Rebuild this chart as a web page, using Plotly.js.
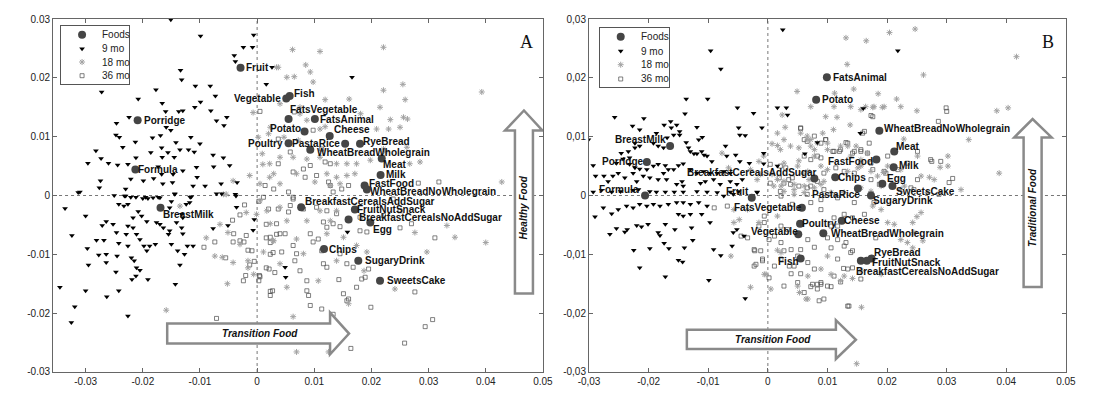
<!DOCTYPE html>
<html>
<head>
<meta charset="utf-8">
<script src="https://cdn.plot.ly/plotly-3.0.1.min.js"></script>
<style>
  html, body { margin: 0; padding: 0; background: #fff; }
  #chart { width: 1105px; height: 408px; }
</style>
</head>
<body>
<div id="chart"></div>
<script>
// ---- data: children points as (x, y) pairs, in thousandths ----
var mo9A = [[-15.1,29.9],[-9.9,27.1],[-0.6,27.3],[-2.4,25.2],[-0.8,25.2],[-4.0,23.8],[-3.8,22.8],[-13.4,21.3],[-13.2,19.7],[-27.2,17.6],
  [-20.8,16.4],[-17.7,18.0],[-10.8,18.6],[-8.2,18.6],[-7.3,16.9],[-16.6,15.7],[-9.9,15.9],[-10.9,15.0],[-8.1,14.4],[-16.0,14.3],
  [-13.7,14.3],[-13.0,14.4],[-7.1,12.7],[-5.3,13.3],[-5.8,11.9],[-22.4,13.3],[-24.6,12.3],[-24.7,10.3],[-24.1,9.9],[-15.9,11.6],
  [-15.1,11.1],[-16.9,10.2],[-18.3,9.8],[-21.3,9.1],[-14.2,9.0],[-11.6,9.9],[-10.0,8.8],[-23.5,8.2],[-28.2,7.6],[-29.6,5.5],
  [-27.3,6.3],[-26.0,5.5],[-24.4,5.2],[-22.6,5.3],[-21.2,6.4],[-13.5,7.8],[-12.0,7.8],[-11.0,7.4],[-16.7,8.1],[-15.6,7.3],
  [-14.5,6.5],[-16.6,6.5],[-18.6,7.3],[-17.3,4.9],[-16.7,3.6],[-14.7,3.6],[-13.0,4.2],[-10.6,4.8],[-7.7,6.9],[-5.9,6.4],
  [-4.8,5.1],[-7.6,4.9],[-10.5,3.1],[-11.2,1.6],[-9.1,1.6],[-6.3,2.0],[-3.5,2.2],[-27.4,2.5],[-27.6,1.3],[-22.1,2.8],
  [-19.9,2.5],[-18.1,2.9],[-16.5,2.0],[-14.8,2.2],[-14.4,0.3],[-31.0,0.6],[-23.0,1.1],[-19.5,-0.3],[-17.3,-0.3],[-11.5,-0.2],
  [-7.1,0.3],[-3.8,0.2],[-25.0,0.0],[-23.0,-0.1],
  [-31.3,0.5],[-33.6,-2.2],[-30.0,-3.5],[-32.4,-6.8],[-28.1,-7.6],[-26.8,-7.6],[-29.7,-9.0],[-27.7,-10.1],[-26.4,-10.0],[-29.5,-11.8],
  [-26.4,-11.4],[-27.1,-5.1],[-26.4,-4.4],[-25.2,-4.9],[-24.6,-6.3],[-24.2,-8.1],[-24.5,-10.3],[-24.7,-13.0],[-24.2,-16.2],[-30.0,-16.2],
  [-34.5,-15.6],[-31.9,-18.9],[-32.5,-21.6],[-26.3,-17.2],[-22.6,-20.5],[-24.2,-1.5],[-23.3,-1.8],[-22.6,-1.5],[-23.2,-0.1],[-22.1,-0.3],
  [-21.2,-0.3],[-20.0,-0.5],[-19.1,-0.5],[-18.2,-0.4],[-17.0,-0.4],[-15.0,-1.0],[-14.4,0.2],[-11.7,-0.3],[-20.8,-2.7],[-20.2,-3.5],
  [-19.3,-4.4],[-21.7,-3.8],[-22.6,-5.2],[-21.7,-5.5],[-22.9,-6.6],[-21.1,-6.6],[-20.5,-7.5],[-22.6,-8.6],[-22.0,-10.6],[-21.5,-11.1],
  [-21.1,-12.3],[-20.5,-12.7],[-21.9,-14.3],[-21.2,-13.7],[-19.1,-14.3],[-19.8,-8.6],[-18.8,-8.6],[-19.3,-9.4],[-17.8,-8.3],[-17.0,-4.9],
  [-16.4,-5.5],[-17.6,-4.6],[-15.5,-6.6],[-15.3,-6.0],[-15.0,-8.3],[-14.1,-4.6],[-13.2,-5.5],[-13.0,-6.5],[-13.9,-9.4],[-12.7,-10.0],
  [-12.2,-8.6],[-11.2,-8.6],[-13.5,-11.8],[-14.3,-15.1],[-13.0,-3.8],[-12.4,-1.5],[-11.8,-1.2],[-15.3,-2.1],[-13.2,-3.2],[-7.7,-5.6],
  [-5.1,-5.1],[-6.2,0.3],[-3.6,-2.0],[-0.7,-5.9],[-3.7,-0.1],
  [2.6,21.8],[1.6,18.9],[16.6,20.1],[15.8,-6.2],[5.0,-13.9],[-0.5,-4.1],[4.9,-12.2]];

var mo18A = [[6.2,24.8],[11.0,24.5],[22.1,25.2],[3.7,21.8],[8.5,22.2],[5.2,20.1],[6.5,20.2],[9.3,21.0],[9.8,19.3],[22.1,17.9],
  [25.5,18.9],[39.3,17.6],[16.1,16.4],[11.9,16.3],[25.9,16.3],[4.0,15.6],[7.5,15.0],[21.5,15.0],[18.1,13.9],[23.3,12.9],
  [25.6,13.3],[26.3,13.0],[7.5,13.9],[8.7,12.8],[11.0,11.3],[11.9,11.7],[20.9,11.3],[23.0,11.3],[25.0,11.6],[2.3,11.6],
  [2.0,10.5],[4.7,9.9],[7.2,9.4],[22.1,7.9],[26.2,8.2],[0.9,7.1],[2.2,5.4],[4.0,6.5],[6.3,6.5],[8.7,6.2],
  [11.0,6.5],[13.9,5.4],[15.7,5.4],[17.4,5.4],[19.8,6.0],[26.7,5.4],[2.9,3.7],[6.9,3.7],[12.2,3.7],[13.9,3.1],
  [15.7,3.4],[17.1,3.7],[0.5,2.0],[4.0,2.0],[10.1,2.3],[12.8,1.7],[14.5,2.0],[42.8,2.3],[28.5,5.7],[22.4,7.4],
  [0.5,-0.9],[1.7,-2.6],[4.0,-2.0],[2.3,-4.8],[5.2,-4.3],[8.7,-4.3],[11.0,-2.6],[12.8,-4.3],[13.9,-2.6],[12.2,-6.5],
  [15.1,-7.1],[13.9,-11.1],[10.7,-14.5],[5.2,-15.6],[16.0,-18.4],[6.3,-20.6],[12.5,-26.6],[6.9,-26.6],[18.7,-12.8],[24.1,-15.9],
  [29.7,-9.6],[27.6,-6.3],[33.2,-5.1],[34.6,-7.1],[40.0,-8.0],[17.4,-8.5],[19.2,-9.6],[6.9,-7.4],[8.1,-9.9],[4.0,-11.6],
  [2.9,-7.7],[1.1,-9.6],[-5.9,0.2],[-5.4,0.2],[-13.5,-1.8],[-6.5,-4.9],[-5.1,-6.3],[-8.9,-7.2],[-7.4,-10.3],[-6.1,-10.5],
  [-4.2,-11.4],[-1.6,-11.1],[-1.6,-12.3],[-0.6,-13.4],[-5.2,-15.0],[-15.9,-19.5],[-3.0,-8.3],[-1.9,-2.9],[-0.1,-3.2],[2.8,-7.7],
  [-0.7,14.1],[0.2,9.9],[-1.3,3.4],[-4.2,2.5],[2.2,3.1],[1.0,5.3],[3.4,21.8]];

var mo36A = [[-9.3,-8.8],[-7.1,-20.9],[-7.4,-7.9],[-5.5,-10.6],[-4.2,-7.9],[-2.2,-1.6],[-3.0,-3.3],[-4.3,-4.2],[-1.9,-6.8],[-2.3,-7.9],
  [-1.6,-9.3],[-0.9,-9.4],[-1.3,-11.8],[-2.0,-13.6],[-0.5,-11.2],[0.5,-13.8],[0.3,-14.5],[0.3,-1.0],[1.6,-4.9],[1.6,-7.2],
  [2.3,-8.0],[2.3,-10.0],[2.8,-9.7],[1.6,-12.3],[2.1,-12.5],[3.1,-13.1],[2.3,-17.0],[2.7,-16.2],[3.4,-6.6],
  [1.1,-0.3],[2.0,-2.3],[3.7,-2.3],[5.5,-2.8],[5.8,-1.7],[6.3,-0.6],[3.4,-4.8],[4.0,-6.5],[2.3,-7.1],[4.9,-6.5],
  [6.3,-8.5],[6.6,-11.1],[7.5,-12.8],[8.7,-14.5],[9.0,-17.0],[9.3,-18.7],[11.3,-19.3],[15.7,-17.9],[16.0,-17.6],[15.1,-16.7],
  [17.4,-15.6],[19.9,-19.0],[27.6,-16.4],[30.7,-21.1],[29.4,-22.3],[25.8,-25.1],[16.4,-26.0],[13.3,-20.2],[14.3,-14.3],[19.5,-12.5],
  [18.3,-14.2],[18.9,-13.9],[31.1,-7.2],[27.0,-4.8],[25.0,-5.5],[19.2,-6.2],[18.0,-6.0],[12.2,-5.4],[11.6,-4.5],[13.3,-4.8],
  [14.5,-5.3],[9.3,-6.5],[9.8,-7.9],[10.7,-7.4],[11.3,-9.4],[11.6,-11.6],[12.2,-12.2],[14.5,-9.9],[15.7,-11.6],[16.8,-12.2],
  [8.1,-2.3],[10.4,-2.0],[12.2,-2.6],[13.9,-3.1],[22.1,-3.4],[18.0,-3.7],[23.8,-0.6],[25.0,-2.6],[6.9,-9.9],[4.3,-9.6],
  [8.7,-16.2],[6.5,14.2],[9.8,11.1],[3.7,9.6],[5.8,7.4],[11.3,7.9],[3.7,5.4],[6.3,4.0],[8.1,4.5],[9.3,5.1],
  [11.9,5.7],[12.8,5.4],[8.4,3.1],[10.4,3.4],[12.5,2.3],[12.8,1.7],[14.8,1.1],[16.0,1.7],[13.3,0.6],[1.4,1.7],
  [2.9,1.1],[5.5,0.6],[6.3,-0.3],[28.2,2.1],[31.8,2.3],[0.5,14.3],[-4.1,-6.5],[-3.0,-7.7],[-2.4,-14.5],[0.4,-13.6],[2.3,-16.3]];

var mo9B = [[2.5,28.2],[-9.6,24.6],[-7.9,21.5],[-13.7,16.4],[-10.1,16.4],[-5.1,14.9],[-2.4,14.0],[3.1,14.9],[-25.7,13.3],[-20.8,13.1],
  [-22.7,11.8],[-21.5,11.2],[-17.4,12.0],[-16.3,12.6],[-15.3,12.0],[-16.2,11.5],[-14.8,10.9],[-14.8,10.3],[-11.9,11.6],[-13.9,13.9],
  [-4.9,11.5],[-1.0,11.5],[-4.7,10.3],[-3.8,10.2],[-11.0,9.9],[-11.6,9.5],[-13.7,9.0],[-13.3,8.1],[-13.0,7.5],[-12.4,7.1],
  [-11.9,7.1],[-11.1,7.5],[-10.7,6.9],[-10.2,6.7],[-9.4,5.8],[-7.1,8.4],[-6.9,6.7],[-5.4,6.9],[-4.7,5.8],[-3.1,5.5],
  [-0.7,7.2],[-0.7,5.4],[-18.7,10.6],[-15.8,10.3],[-16.9,9.8],[-19.2,8.9],[-18.4,8.4],[-17.5,8.1],[-21.5,8.4],[-22.3,8.9],
  [-22.3,8.1],[-23.4,7.5],[-24.6,7.2],[-23.2,6.4],[-24.3,6.2],[-25.4,5.5],[-23.2,5.3],[-22.3,4.7],[-21.5,4.5],[-20.3,4.4],
  [-19.2,5.0],[-18.4,5.3],[-17.2,5.1],[-17.5,3.8],[-16.7,4.4],[-15.8,4.4],[-15.0,5.1],[-14.2,5.4],[-13.0,4.4],[-11.9,3.8],
  [-10.8,4.1],[-9.7,3.8],[-8.5,3.8],[-7.4,4.1],[-6.3,3.8],[-29.3,5.1],[-28.9,3.3],[-27.5,3.3],[-26.8,2.4],[-26.0,3.3],
  [-25.1,3.8],[-24.0,3.0],[-22.6,3.8],[-22.0,2.4],[-20.9,3.3],[-19.8,3.0],[-18.4,2.7],[-17.0,2.7],[-14.4,2.4],[-15.3,1.9],
  [-14.2,1.6],[-11.3,2.1],[-10.5,2.4],[-9.1,2.7],[-8.0,1.9],[-6.3,2.4],[-5.2,1.9],[-4.3,2.7],[-29.3,0.6],[-27.9,0.9],
  [-26.2,0.6],[-24.7,0.7],[-22.6,0.9],[-21.7,1.0],[-19.8,0.7],[-18.7,0.6],[-17.2,0.6],[-15.7,0.6],[-14.2,0.6],[-11.9,0.7],
  [-10.2,0.6],[-8.5,0.5],[-6.3,0.6],[-4.9,0.7],[-1.8,0.6],[-30.1,9.5],
  [-29.0,-3.6],[-27.6,-2.1],[-26.2,-3.1],[-25.1,-2.4],[-23.7,-1.8],[-22.6,-2.1],[-21.5,-1.5],[-20.3,-1.8],[-19.2,-1.5],[-18.1,-1.8],
  [-16.7,-1.5],[-15.3,-1.2],[-14.2,-1.2],[-13.0,-1.5],[-11.6,-1.2],[-10.2,-1.8],[-26.5,-6.6],[-25.4,-5.6],[-24.0,-6.2],[-23.6,-5.8],
  [-22.0,-5.1],[-21.2,-5.3],[-20.1,-4.9],[-18.4,-6.3],[-18.1,-6.8],[-17.2,-4.9],[-15.6,-5.8],[-15.0,-3.2],[-14.2,-3.5],[-13.0,-3.2],
  [-12.8,-5.5],[-11.1,-3.2],[-9.7,-4.6],[-9.1,-9.2],[-7.9,-10.2],[-6.0,-8.6],[-5.8,-6.3],[-5.2,-5.8],[-4.0,-6.9],[-22.5,-9.3],
  [-19.8,-9.0],[-17.4,-8.1],[-16.6,-9.0],[-14.0,-8.9],[-12.6,-7.6],[-15.0,-11.0],[-14.3,-11.3],[-21.5,-12.3],[-17.2,-13.8],[-9.9,-14.4],
  [-3.8,-17.5],[-7.4,-0.1],[-5.8,0.2],[-1.8,0.5],[-2.6,0.0],
  [21.8,24.6],[16.0,14.8],[15.5,10.6],[8.3,9.0],[6.2,7.1],[1.6,5.0],[3.3,13.7],[1.6,14.9]];

var mo18B = [[20.4,27.7],[24.7,28.3],[13.1,26.8],[16.5,26.3],[41.7,23.6],[13.3,22.3],[26.1,20.5],[11.2,17.4],[14.4,18.1],[18.5,17.3],
  [21.6,16.4],[16.4,15.1],[17.6,15.0],[19.2,15.0],[25.0,14.4],[38.4,14.4],[40.3,14.9],[9.7,13.4],[11.6,13.3],[13.8,12.0],
  [11.0,11.2],[9.2,10.6],[22.8,9.6],[33.7,9.5],[13.4,8.4],[14.8,8.4],[10.0,8.9],[25.1,6.7],[28.9,4.8],[38.8,3.8],
  [27.1,3.1],[32.4,1.0],[19.4,3.9],[15.6,5.0],[22.9,1.6],[30.2,6.7],
  [4.9,17.7],[2.4,13.7],[2.9,11.6],[0.7,8.8],[1.6,8.5],[2.7,9.5],[2.1,7.8],[3.8,8.4],[5.2,8.1],[6.6,10.1],
  [7.2,9.5],[8.3,8.9],[-1.5,5.8],[-0.7,6.7],[-2.9,4.4],[-1.2,3.6],[-1.8,2.7],[-6.6,4.7],[-7.4,3.8],[-7.7,7.2],
  [0.7,3.6],[1.6,2.7],[2.7,2.4],[4.4,1.9],[5.8,3.8],[6.9,2.7],[7.8,1.3],[9.4,2.4],[6.1,0.5],[4.4,0.2],
  [2.7,0.7],[1.0,1.6],[5.2,5.9],[7.8,6.7],[7.2,8.4],
  [1.6,10.6],[5.5,10.6],[7.2,15.1],[11.1,15.1],[13.9,15.1],[15.6,14.6],[17.8,15.1],[19.5,15.1],[22.3,15.1],[6.7,9.5],
  [7.8,7.8],[10.0,7.8],[12.2,8.4],[13.9,6.7],[15.6,6.1],[16.7,7.2],[2.7,5.5],[5.0,5.0],[6.7,4.1],[8.9,5.0],
  [10.0,4.4],[13.4,4.1],[15.1,4.7],[17.3,4.1],[18.4,3.3],[20.1,5.0],[22.3,4.4],[25.7,3.3],[27.9,2.7],[30.2,5.0],
  [2.2,1.6],[4.4,1.0],[6.1,1.6],[8.9,1.9],[10.6,0.5],[12.8,0.5],[15.6,1.3],[17.3,0.7],[19.0,1.6],[22.3,1.0],[26.8,0.5],
  [-1.5,-4.6],[1.6,-3.5],[2.2,-9.7],[6.7,-13.7],[10.0,-10.3],[12.8,-13.7],[15.6,-12.8],[19.0,-13.4],[20.1,-4.6],[21.2,-4.9],
  [23.4,-8.0],[24.5,-6.3],[-3.4,-2.4],[-6.2,-10.3],[-0.6,-13.4],[0.5,-15.9],[5.0,-15.4],[6.7,-17.6],[8.9,-12.5],[25.7,-2.9],
  [25.0,-3.6],[24.3,-4.6],[26.0,-7.7],[24.3,-8.9],[22.3,-7.5],[15.7,-19.0],[14.9,-28.6],[14.2,-14.1],[12.2,-14.5],[10.6,-13.4],
  [19.0,-2.4],[17.6,-1.8],[-2.9,-15.6],[-0.3,-13.4],[5.3,-16.5],[6.4,-17.6],[-5.7,-4.6],[-4.8,-4.1],[-5.7,-2.4],[1.6,-9.3]];

var mo36B = [[29.9,14.9],[30.0,14.3],[28.6,12.6],[17.6,13.4],[15.9,10.6],[17.0,8.9],[13.1,9.0],[9.7,9.5],[10.9,7.5],[12.0,7.5],
  [14.2,7.2],[15.6,7.5],[20.1,6.7],[25.1,7.5],[27.5,5.8],[31.0,2.9],[30.4,2.2],[9.4,3.8],[11.4,4.7],[12.8,4.1],
  [14.5,3.8],[15.6,5.5],[17.6,4.4],[19.8,3.8],[24.0,1.3],[18.7,1.9],[17.3,2.7],[28.7,0.2],
  [17.8,-1.2],[16.2,-3.2],[14.2,-3.8],[12.8,-3.2],[11.1,-3.8],[11.7,-5.2],[10.0,-7.2],[10.6,-8.9],[13.1,-8.0],[14.2,-9.4],
  [11.7,-10.8],[18.1,-7.2],[14.2,-12.3],[12.7,-12.4],[12.2,-14.7],[10.6,-15.5],[13.4,-18.8],[8.9,-15.1],[9.4,-17.6],
  [2.2,-0.1],[4.1,-1.5],[7.2,-1.2],[8.9,-0.7],[11.7,-0.4],[14.5,-1.2],[-0.6,-3.5],[-1.5,-5.2],[1.1,-6.9],[2.2,-8.0],
  [3.9,-9.2],[5.0,-10.3],[6.7,-11.4],[7.8,-12.5],[8.9,-14.8],[10.0,-15.4],[11.1,-13.7],[13.4,-12.5],[15.6,-14.2],[-0.9,-10.8],
  [-2.2,-9.4],[2.7,-15.4],[7.5,-15.1],[8.3,-15.9],[13.6,-18.8],[-0.6,-4.6],[0.2,-7.5],[2.2,-5.2],[3.3,-5.8],[8.9,-2.4],
  [10.6,-5.2],[11.7,-7.5],[12.8,-8.6],[13.9,-9.7],[7.8,-8.8],[6.7,-7.5],[5.5,-9.2],[4.4,-12.0],[-2.3,-12.0],[1.1,-12.0],
  [-9.0,-2.1],[-6.8,-1.8],[-2.3,-9.2],[-1.2,-9.4],[-0.9,-11.1],[-2.0,-11.7],[0.2,-14.0],[3.6,-12.0],[3.9,-13.3],[5.5,-13.3],
  [5.0,-14.8],[7.2,-15.5],[8.3,-15.1],[8.6,-17.9],[6.1,-16.5],[2.2,-10.8],[2.7,-9.4],[-4.5,-6.9],[-3.4,-7.2],
  [5.5,11.4],[6.1,9.5],[6.6,9.2],[7.8,10.1],[8.9,8.9],[8.3,6.7],[9.7,9.5],[6.1,6.7],[7.2,6.1],[8.9,6.4],
  [4.1,3.0],[3.5,2.7],[2.7,2.1],[0.4,5.3],[2.1,5.0],[3.0,4.7],[1.9,3.0],[3.8,1.9],[5.2,1.6],[6.6,1.3],
  [8.3,2.4],[7.2,1.6],[9.4,1.0],[6.6,0.2],[2.1,0.7],[0.4,2.1],
  [5.5,11.5],[16.2,10.9],[17.3,13.6],[23.4,5.5],[19.5,4.1],[21.8,4.4],[13.4,8.9],[11.1,7.5],[12.2,7.8],[14.5,7.5],
  [15.6,7.8],[16.7,7.2],[17.3,5.5],[29.0,5.8],[27.3,6.1],[25.1,2.7],[24.5,1.0]];

// ---- data: food positions ----
var foodNames = ['BreastMilk','Formula','Porridge','Fruit','Vegetable','Potato','Fish','Meat','Poultry','Egg',
  'Milk','Cheese','FatsAnimal','FatsVegetable','PastaRice','RyeBread','WheatBreadWholegrain','WheatBreadNoWholegrain',
  'BreakfastCerealsAddSugar','BreakfastCerealsNoAddSugar','FruitNutSnack','Chips','SugaryDrink','SweetsCake','FastFood'];
var foodAx = [-0.0169,-0.0213,-0.0209,-0.0029,0.0051,0.0083,0.0057,0.0218,0.0055,0.0198,
  0.0216,0.0127,0.0101,0.0055,0.0154,0.0180,0.0093,0.0192,0.0077,0.0160,0.0171,0.0117,0.0177,0.0215,0.0188];
var foodAy = [-0.0021,0.0044,0.0128,0.0217,0.0165,0.0109,0.0169,0.0063,0.0089,-0.0046,
  0.0035,0.0101,0.0130,0.0130,0.0088,0.0088,0.0078,0.0010,-0.0020,-0.0041,-0.0024,-0.0091,-0.0111,-0.0145,0.0017];
var foodBx = [-0.0164,-0.0206,-0.0203,-0.0027,0.0051,0.0081,0.0055,0.0212,0.0054,0.0192,
  0.0211,0.0124,0.0099,0.0057,0.0151,0.0174,0.0093,0.0187,0.0078,0.0156,0.0166,0.0113,0.0173,0.0209,0.0182];
var foodBy = [0.0084,0.0000,0.0057,-0.0004,-0.0066,0.0163,-0.0107,0.0075,-0.0048,0.0020,
  0.0048,-0.0043,0.0201,-0.0021,0.0012,-0.0107,-0.0064,0.0110,0.0029,-0.0111,-0.0111,0.0031,0.0000,0.0016,0.0061];

var tickVals = [-0.03,-0.02,-0.01,0,0.01,0.02,0.03,0.04,0.05];
var yTickVals = [-0.03,-0.02,-0.01,0,0.01,0.02,0.03];
var xTickTextA = ['-0.03','-0.02','-0.01','0','0.01','0.02','0.03','0.04','0.05'];
var yTickTextA = ['-0.03','-0.02','-0.01','0','0.01','0.02','0.03'];
var xTickTextB = ['-0,03','-0,02','-0,01','0','0.01','0.02','0.03','0.04','0.05'];
var yTickTextB = ['-0,03','-0,02','-0,01','0','0,01','0,02','0,03'];
var legendNames = ['Foods','9 mo','18 mo','36 mo'];

// ---- label placement (side, dx, dy in px) ----
var labelA = {BreastMilk:['r',2,7],Formula:['r',3,0],Porridge:['r',6,0],Fruit:['r',5,0],Vegetable:['l',-5,0],
  Potato:['l',-4,-3],Fish:['r',4,-3],Meat:['r',1,6],Poultry:['l',-6,0],Egg:['r',3,7],Milk:['r',5,0],Cheese:['r',4,-7],
  FatsAnimal:['r',5,0],FatsVegetable:['r',1,-10],PastaRice:['l',-5,0],RyeBread:['r',3,-2],WheatBreadWholegrain:['r',7,3],
  WheatBreadNoWholegrain:['r',3,2],BreakfastCerealsAddSugar:['r',4,-6],BreakfastCerealsNoAddSugar:['r',10,-2],
  FruitNutSnack:['r',2,0],Chips:['r',5,0],SugaryDrink:['r',7,0],SweetsCake:['r',7,0],FastFood:['r',4,-2]};
var labelB = {BreastMilk:['l',-4,-7],Formula:['l',-6,-6],Porridge:['l',-3,0],Fruit:['l',-3,-6],Vegetable:['l',0,-3],
  Potato:['r',6,0],Fish:['l',-2,3],Meat:['r',2,-5],Poultry:['r',2,0],Egg:['r',5,-5],Milk:['r',5,-2],Cheese:['r',2,0],
  FatsAnimal:['r',6,0],FatsVegetable:['l',0,0],PastaRice:['l',2,6],RyeBread:['r',2,-6],WheatBreadWholegrain:['r',8,0],
  WheatBreadNoWholegrain:['r',5,-2],BreakfastCerealsAddSugar:['l',3,-6],BreakfastCerealsNoAddSugar:['r',-5,11],
  FruitNutSnack:['r',5,2],Chips:['r',3,0],SugaryDrink:['r',2,5],SweetsCake:['r',4,5],FastFood:['l',-3,2]};

var FONT = 'Liberation Sans, Arial, sans-serif';
var mkFood = {symbol:'circle', size:8, color:'#454545'};
var mk9 = {symbol:'triangle-down', size:5, color:'#000'};
var mk18 = {symbol:'asterisk-open', size:5, color:'#a2a2a2', line:{width:1}};
var mk36 = {symbol:'square-open', size:4, color:'#4a4a4a', line:{width:0.7}};

function cloud(pairs, xa, ya, marker) {
  return {x: pairs.map(function (p) { return p[0] / 1000; }),
          y: pairs.map(function (p) { return p[1] / 1000; }),
          xaxis: xa, yaxis: ya, type: 'scatter', mode: 'markers', marker: marker, hoverinfo: 'skip'};
}

var traces = [
  cloud(mo36A, 'x', 'y', mk36), cloud(mo18A, 'x', 'y', mk18), cloud(mo9A, 'x', 'y', mk9),
  {x: foodAx, y: foodAy, xaxis: 'x', yaxis: 'y', type: 'scatter', mode: 'markers', marker: mkFood},
  cloud(mo36B, 'x2', 'y2', mk36), cloud(mo18B, 'x2', 'y2', mk18), cloud(mo9B, 'x2', 'y2', mk9),
  {x: foodBx, y: foodBy, xaxis: 'x2', yaxis: 'y2', type: 'scatter', mode: 'markers', marker: mkFood}
];

// custom legends drawn in small boxed subplots
var legendRowsA = [0.85, 0.609, 0.379, 0.143];
var legendRowsB = [0.858, 0.615, 0.383, 0.141];
var legendMarkers = [mkFood, mk9, mk18, mk36];
var annotations = [];
[['x3', 'y3', legendRowsA, 0.31, 0.574], ['x4', 'y4', legendRowsB, 0.30, 0.57]].forEach(function (lg) {
  legendNames.forEach(function (name, i) {
    traces.push({x: [lg[3]], y: [lg[2][i]], xaxis: lg[0], yaxis: lg[1], type: 'scatter', mode: 'markers',
                 marker: legendMarkers[i], hoverinfo: 'skip'});
    annotations.push({xref: lg[0], yref: lg[1], x: lg[4], y: lg[2][i], text: name, showarrow: false,
                      xanchor: 'left', yanchor: 'middle', font: {family: FONT, size: 10, color: '#222'}});
  });
});

// food labels
function addLabels(xs, ys, place, xr, yr) {
  foodNames.forEach(function (name, i) {
    var p = place[name];
    annotations.push({xref: xr, yref: yr, x: xs[i], y: ys[i], text: name, showarrow: false,
      xanchor: p[0] === 'r' ? 'left' : 'right', yanchor: 'middle',
      xshift: p[0] === 'r' ? p[1] - 2 : p[1] + 2, yshift: -p[2],
      font: {family: FONT, size: 10, color: '#111', weight: 'bold'}});
  });
}
addLabels(foodAx, foodAy, labelA, 'x', 'y');
addLabels(foodBx, foodBy, labelB, 'x2', 'y2');

var arrowFont = {family: FONT, size: 10, color: '#111', weight: 'bold', style: 'italic'};
annotations.push(
  {xref: 'x', yref: 'y', x: 0.0005, y: -0.02347, text: 'Transition Food', showarrow: false, font: arrowFont},
  {xref: 'x2', yref: 'y2', x: 0.0008, y: -0.02453, text: 'Transition Food', showarrow: false, font: arrowFont},
  {xref: 'x', yref: 'y', x: 0.04668, y: -0.00204, text: 'Healthy Food', showarrow: false, textangle: -90, font: arrowFont},
  {xref: 'x2', yref: 'y2', x: 0.04441, y: -0.00203, text: 'Traditional Food', showarrow: false, textangle: -90, font: arrowFont},
  {xref: 'x', yref: 'y', x: 0.04715, y: 0.02607, text: 'A', showarrow: false,
   font: {family: 'Liberation Serif, Times New Roman, serif', size: 18, color: '#111'}},
  {xref: 'x2', yref: 'y2', x: 0.04693, y: 0.02615, text: 'B', showarrow: false,
   font: {family: 'Liberation Serif, Times New Roman, serif', size: 18, color: '#111'}}
);

var arrowLine = {color: '#8a8a8a', width: 2.5};
var dotLine = {color: '#777', width: 1, dash: 'dot'};
var shapes = [
  {type: 'line', xref: 'x', yref: 'y domain', x0: 0, x1: 0, y0: 0, y1: 1, line: dotLine, layer: 'below'},
  {type: 'line', xref: 'x domain', yref: 'y', x0: 0, x1: 1, y0: 0, y1: 0, line: dotLine, layer: 'below'},
  {type: 'line', xref: 'x2', yref: 'y2 domain', x0: 0, x1: 0, y0: 0, y1: 1, line: dotLine, layer: 'below'},
  {type: 'line', xref: 'x2 domain', yref: 'y2', x0: 0, x1: 1, y0: 0, y1: 0, line: dotLine, layer: 'below'},
  {type: 'path', xref: 'x', yref: 'y', fillcolor: '#fff', line: arrowLine,
   path: 'M -0.01573,-0.02177 L 0.01276,-0.02177 L 0.01276,-0.0199 L 0.01608,-0.02347 L 0.01276,-0.0270 L 0.01276,-0.02517 L -0.01573,-0.02517 Z'},
  {type: 'path', xref: 'x', yref: 'y', fillcolor: '#fff', line: arrowLine,
   path: 'M 0.0451,-0.01667 L 0.0451,0.01105 L 0.04336,0.01105 L 0.04668,0.01446 L 0.0499,0.01105 L 0.04825,0.01105 L 0.04825,-0.01667 Z'},
  {type: 'path', xref: 'x2', yref: 'y2', fillcolor: '#fff', line: arrowLine,
   path: 'M -0.01359,-0.02283 L 0.01141,-0.02283 L 0.01141,-0.02119 L 0.01477,-0.02453 L 0.01141,-0.0278 L 0.01141,-0.0261 L -0.01359,-0.0261 Z'},
  {type: 'path', xref: 'x2', yref: 'y2', fillcolor: '#fff', line: arrowLine,
   path: 'M 0.0429,-0.01554 L 0.0429,0.00988 L 0.04133,0.00988 L 0.04441,0.0130 L 0.0476,0.00988 L 0.04592,0.00988 L 0.04592,-0.01554 Z'}
];

function mainAxis(extra) {
  var ax = {showgrid: false, zeroline: false, showline: true, linecolor: '#666', linewidth: 1, mirror: 'ticks',
            ticks: 'inside', ticklen: 4, tickcolor: '#666', tickmode: 'array', fixedrange: true,
            tickfont: {family: FONT, size: 10, color: '#222'}};
  for (var k in extra) ax[k] = extra[k];
  return ax;
}
function boxAxis(extra) {
  var ax = {showgrid: false, zeroline: false, showline: true, mirror: true, linecolor: '#555', linewidth: 1,
            showticklabels: false, ticks: '', range: [0, 1], fixedrange: true};
  for (var k in extra) ax[k] = extra[k];
  return ax;
}

var layout = {
  width: 1105, height: 408,
  margin: {l: 0, r: 0, t: 19, b: 36},
  paper_bgcolor: '#fff', plot_bgcolor: '#fff',
  showlegend: false,
  font: {family: FONT, size: 10, color: '#222'},
  xaxis: mainAxis({domain: [0.048, 0.4914], range: [-0.0357, 0.05001], tickvals: tickVals, ticktext: xTickTextA, anchor: 'y'}),
  yaxis: mainAxis({domain: [0, 1], range: [-0.03001, 0.03001], tickvals: yTickVals, ticktext: yTickTextA, anchor: 'x'}),
  xaxis2: mainAxis({domain: [0.533, 0.9647], range: [-0.03001, 0.05001], tickvals: tickVals, ticktext: xTickTextB, anchor: 'y2'}),
  yaxis2: mainAxis({domain: [0, 1], range: [-0.03001, 0.03001], tickvals: yTickVals, ticktext: yTickTextB, anchor: 'x2'}),
  xaxis3: boxAxis({domain: [0.0552, 0.1167], anchor: 'y3'}),
  yaxis3: boxAxis({domain: [0.8159, 0.9802], anchor: 'x3'}),
  xaxis4: boxAxis({domain: [0.543, 0.6054], anchor: 'y4'}),
  yaxis4: boxAxis({domain: [0.8065, 0.9737], anchor: 'x4'}),
  shapes: shapes,
  annotations: annotations
};

Plotly.newPlot('chart', traces, layout, {staticPlot: true, displayModeBar: false});
</script>
</body>
</html>
